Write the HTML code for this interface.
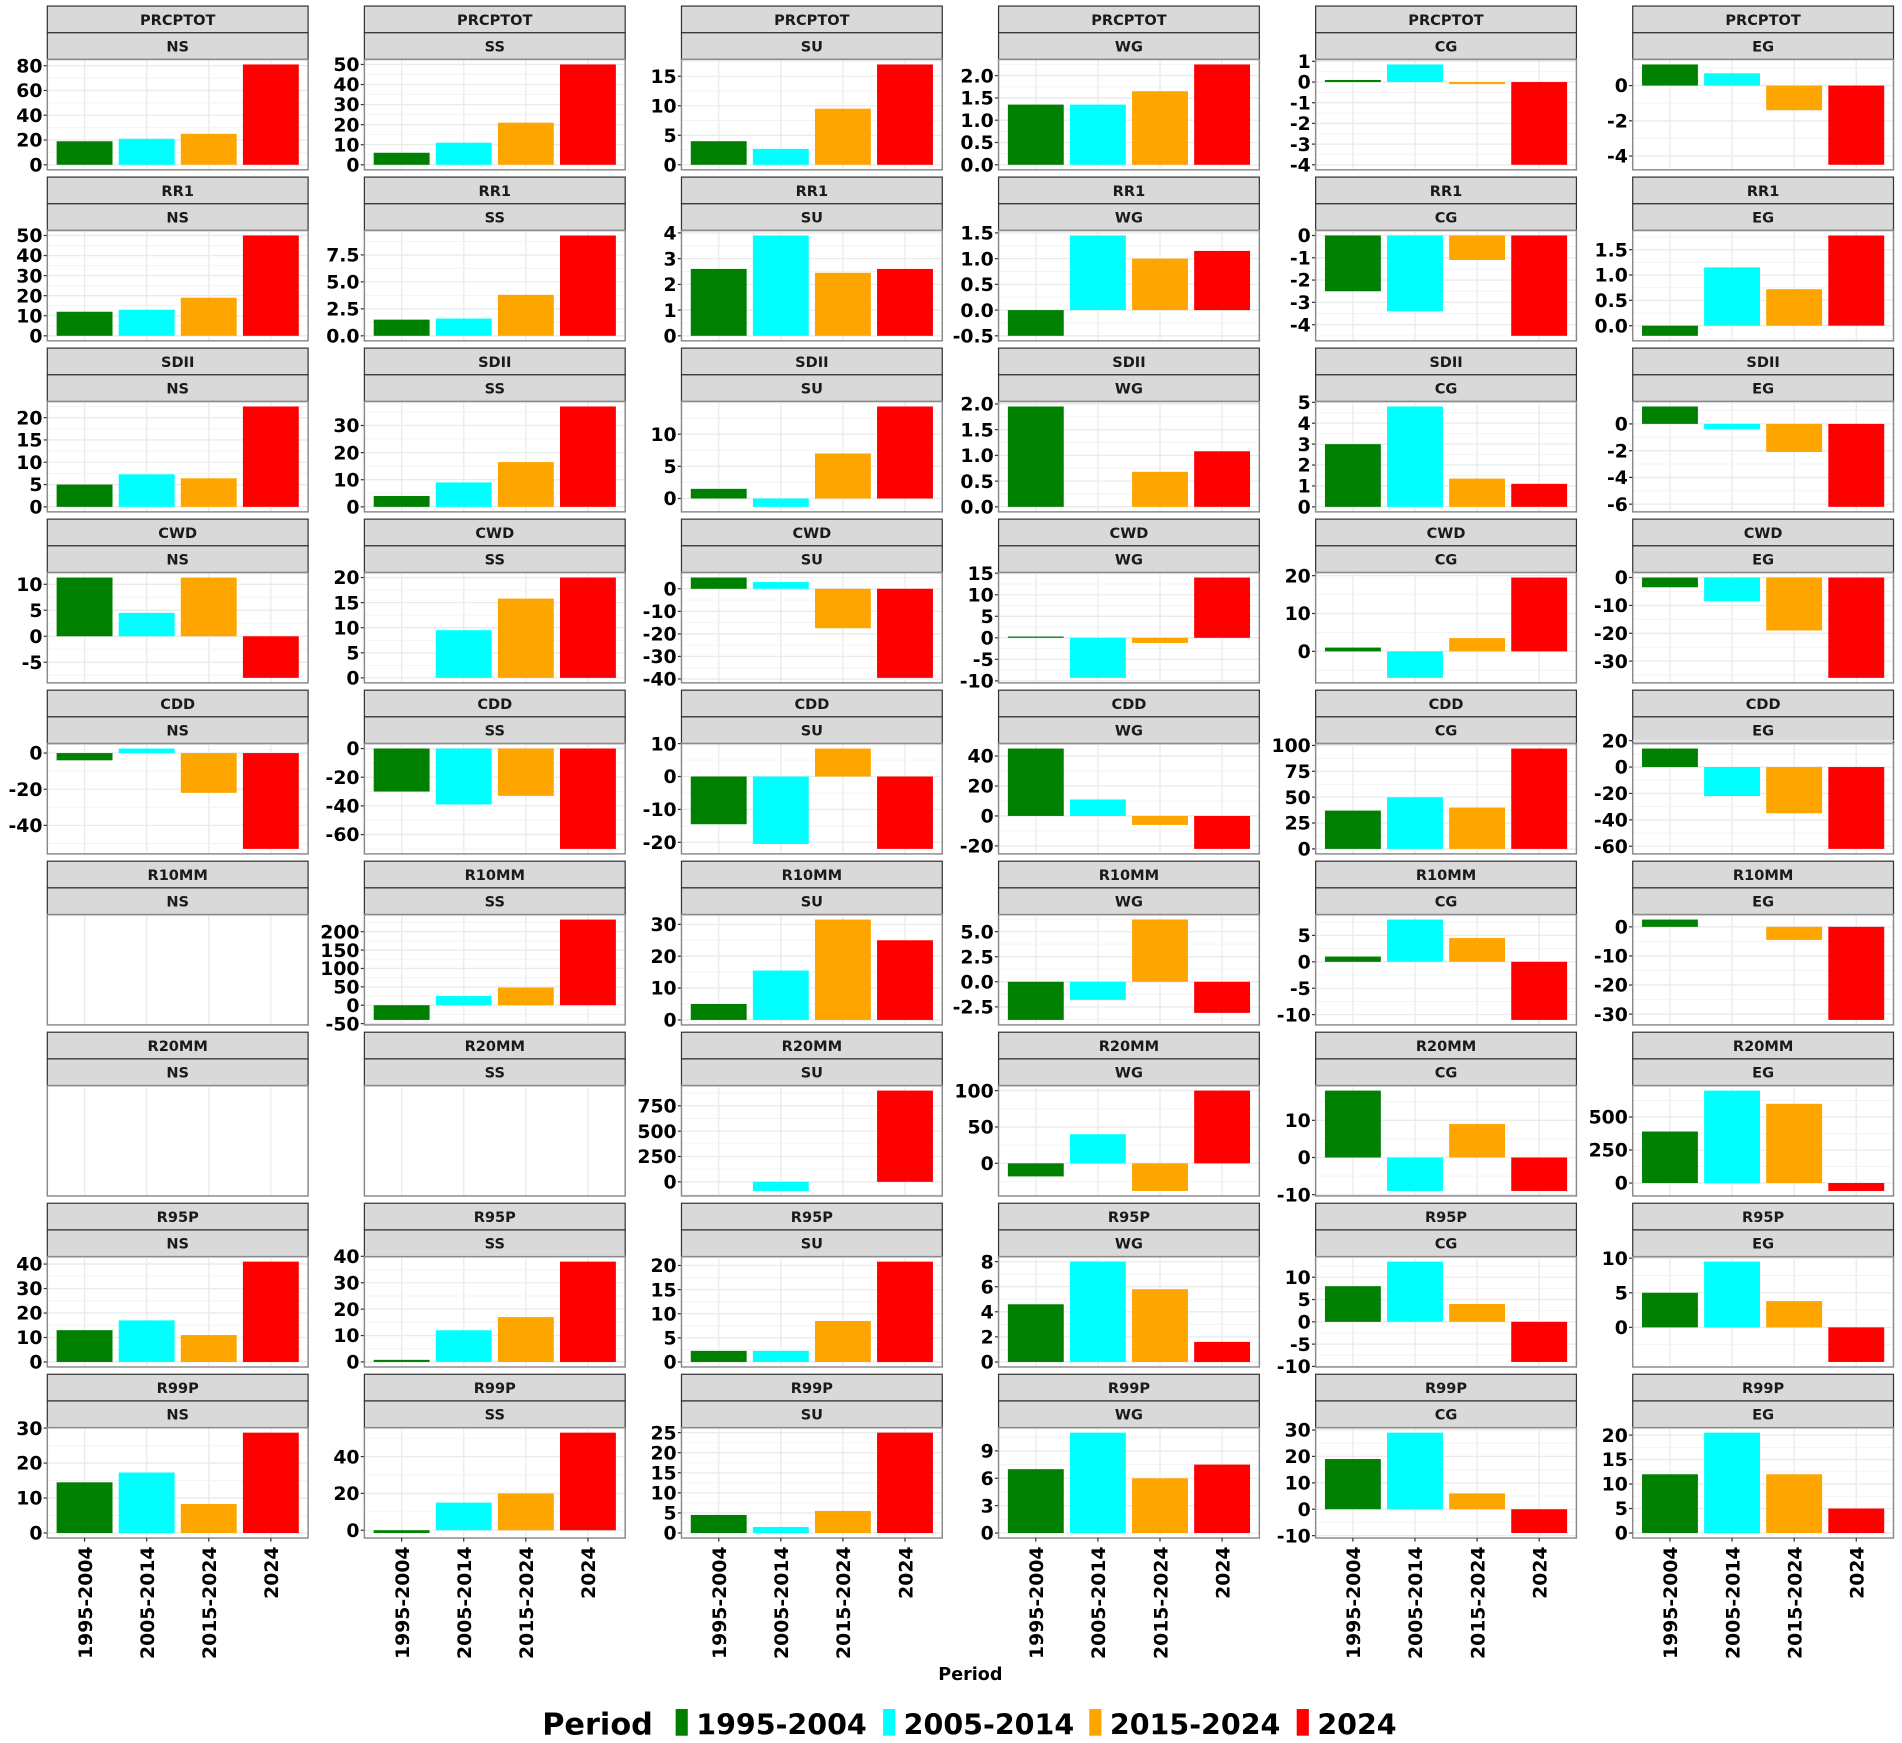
<!DOCTYPE html>
<html><head><meta charset="utf-8"><style>
html,body{margin:0;padding:0;background:#fff;}
svg{display:block;}
text{font-family:"DejaVu Sans","Liberation Sans",sans-serif;font-weight:bold;}
</style></head>
<body>
<svg id="chart" width="1902" height="1743" viewBox="0 0 1568 1437" preserveAspectRatio="none" xmlns="http://www.w3.org/2000/svg"></svg>
<script>
const indices = ["PRCPTOT","RR1","SDII","CWD","CDD","R10MM","R20MM","R95P","R99P"];
const regions = ["NS","SS","SU","WG","CG","EG"];
const periods = ["1995-2004","2005-2014","2015-2024","2024"];
const colors = ["#008000","#00FFFF","#FFA500","#FF0000"];

const prcptotVals = [[19,21,25,81],[6,11,21,50],[4,2.7,9.5,17],[1.35,1.35,1.65,2.25],[0.1,0.85,-0.1,-4.0],[1.2,0.7,-1.4,-4.5]];
const rr1Vals = [[12,13,19,50],[1.5,1.6,3.8,9.3],[2.6,3.9,2.45,2.6],[-0.5,1.45,1.0,1.15],[-2.5,-3.4,-1.1,-4.5],[-0.2,1.15,0.72,1.78]];
const sdiiVals = [[5,7.3,6.4,22.5],[4,9,16.5,37],[1.5,-1.3,7,14.3],[1.95,0,0.68,1.08],[3,4.8,1.35,1.1],[1.3,-0.4,-2.1,-6.2]];
const cwdVals = [[11.3,4.5,11.3,-8],[0,9.5,15.8,20],[5,3,-17.5,-39.5],[0.3,-9.3,-1.2,14],[1,-7,3.5,19.5],[-3.5,-8.5,-19,-36]];
const cddVals = [[-4,2.5,-22,-53],[-30,-39,-33,-70],[-14.5,-20.5,8.5,-22],[45,11,-6,-22],[37,50,40,97],[14,-22,-35,-62]];
const r10mmVals = [null,[-40,25,48,233],[5,15.5,31.5,25],[-3.8,-1.8,6.2,-3.1],[1,8,4.5,-11],[2.5,0,-4.5,-32]];
const r20mmVals = [null,null,[0,-90,0,900],[-18,40,-38,100],[18,-9,9,-9],[390,700,600,-60]];
const r95pVals = [[13,17,11,41],[0.8,12,17,38],[2.3,2.3,8.5,20.8],[4.6,8,5.8,1.6],[8,13.5,4,-9],[5,9.5,3.8,-5]];
const r99pVals = [[14.5,17.3,8.3,28.7],[-1.5,15,20,53],[4.5,1.5,5.5,25],[7,11,6,7.5],[19,29,6,-9],[12,20.5,12,5]];

const prcptotTicks = [["0","20","40","60","80"],["0","10","20","30","40","50"],["0","5","10","15"],["0.0","0.5","1.0","1.5","2.0"],["-4","-3","-2","-1","0","1"],["-4","-2","0"]];
const rr1Ticks = [["0","10","20","30","40","50"],["0.0","2.5","5.0","7.5"],["0","1","2","3","4"],["-0.5","0.0","0.5","1.0","1.5"],["-4","-3","-2","-1","0"],["0.0","0.5","1.0","1.5"]];
const sdiiTicks = [["0","5","10","15","20"],["0","10","20","30"],["0","5","10"],["0.0","0.5","1.0","1.5","2.0"],["0","1","2","3","4","5"],["-6","-4","-2","0"]];
const cwdTicks = [["-5","0","5","10"],["0","5","10","15","20"],["-40","-30","-20","-10","0"],["-10","-5","0","5","10","15"],["0","10","20"],["-30","-20","-10","0"]];
const cddTicks = [["-40","-20","0"],["-60","-40","-20","0"],["-20","-10","0","10"],["-20","0","20","40"],["0","25","50","75","100"],["-60","-40","-20","0","20"]];
const r10mmTicks = [[],["-50","0","50","100","150","200"],["0","10","20","30"],["-2.5","0.0","2.5","5.0"],["-10","-5","0","5"],["-30","-20","-10","0"]];
const r20mmTicks = [[],[],["0","250","500","750"],["0","50","100"],["-10","0","10"],["0","250","500"]];
const r95pTicks = [["0","10","20","30","40"],["0","10","20","30","40"],["0","5","10","15","20"],["0","2","4","6","8"],["-10","-5","0","5","10"],["0","5","10"]];
const r99pTicks = [["0","10","20","30"],["0","20","40"],["0","5","10","15","20","25"],["0","3","6","9"],["-10","0","10","20","30"],["0","5","10","15","20"]];

const allVals = [prcptotVals,rr1Vals,sdiiVals,cwdVals,cddVals,r10mmVals,r20mmVals,r95pVals,r99pVals];
const allTicks = [prcptotTicks,rr1Ticks,sdiiTicks,cwdTicks,cddTicks,r10mmTicks,r20mmTicks,r95pTicks,r99pTicks];

const NS = "http://www.w3.org/2000/svg";
const svg = document.getElementById("chart");
function mk(tag, attrs, parent){
  const e = document.createElementNS(NS, tag);
  for (const k in attrs) e.setAttribute(k, attrs[k]);
  (parent||svg).appendChild(e);
  return e;
}
const colX0 = 39, colStep = 261.4, panelW = 215;
const rowY0 = 5, rowStep = 141, stripH = 22, plotH = 91;

for (let r = 0; r < indices.length; r++) {
  for (let c = 0; c < regions.length; c++) {
    const x0 = colX0 + c*colStep;
    const top = rowY0 + r*rowStep;
    const py0 = top + 2*stripH, py1 = py0 + plotH;
    const g = mk("g", {});
    
    
    const s1 = mk("rect", {x:x0, y:top, width:panelW, height:stripH, fill:"#d9d9d9", stroke:"#333", "stroke-width":1}, g);
    
    
    const t1 = mk("text", {x:x0+panelW/2, y:top+15.5, "text-anchor":"middle", "font-size":12, fill:"#1a1a1a"}, g);
    t1.textContent = indices[r];
    
    
    const s2 = mk("rect", {x:x0, y:top+stripH, width:panelW, height:stripH, fill:"#d9d9d9", stroke:"#333", "stroke-width":1}, g);
    
    
    const t2 = mk("text", {x:x0+panelW/2, y:top+stripH+15.5, "text-anchor":"middle", "font-size":12, fill:"#1a1a1a"}, g);
    t2.textContent = regions[c];
    
    
    const unit = panelW/4.2;
    const xc = i => x0 + (i + 0.6)*unit;
    for (let i = 0; i < 4; i++) {
      const gl = mk("line", {x1:xc(i), x2:xc(i), y1:py0, y2:py1, stroke:"#ebebeb", "stroke-width":1.1}, g);
      
      
    }
    const vals = allVals[r][c];
    const ticks = allTicks[r][c].map(Number);
    if (vals) {
      let mn = Math.min(0, ...vals), mx = Math.max(0, ...vals);
      const pad = (mx - mn)*0.05; mn -= pad; mx += pad;
      const ys = v => py1 - (v - mn)/(mx - mn)*plotH;
      if (ticks.length > 1) {
        const st = ticks[1]-ticks[0];
        for (let v = ticks[0]-st/2; v <= mx; v += st) {
          if (v < mn) continue;
          const ml = mk("line", {x1:x0, x2:x0+panelW, y1:ys(v), y2:ys(v), stroke:"#f3f3f3", "stroke-width":0.8}, g);
          
          
        }
      }
      allTicks[r][c].forEach((lab, k) => {
        const v = ticks[k];
        const y = ys(v);
        const gl = mk("line", {x1:x0, x2:x0+panelW, y1:y, y2:y, stroke:"#ebebeb", "stroke-width":1.1}, g);
        
        
        const tk = mk("line", {x1:x0-3, x2:x0, y1:y, y2:y, stroke:"#333", "stroke-width":1}, g);
        
        
        const tl = mk("text", {x:x0-4, y:y+5.5, "text-anchor":"end", "font-size":15.5, fill:"#000"}, g);
        tl.textContent = lab;
        
        
      });
      vals.forEach((v, i) => {
        if (v === 0) return;
        const bw = 0.9*unit;
        const ya = ys(Math.max(v,0)), yb = ys(Math.min(v,0));
        const b = mk("rect", {x:xc(i)-bw/2, y:ya, width:bw, height:Math.max(yb-ya,0.8), fill:colors[i]}, g);
        
        
      });
    }
    const border = mk("rect", {x:x0, y:py0, width:panelW, height:plotH, fill:"none", stroke:"#8a8a8a", "stroke-width":1.2}, g);
    
    
    if (r === indices.length-1) {
      for (let i = 0; i < 4; i++) {
        const tk = mk("line", {x1:xc(i), x2:xc(i), y1:py1, y2:py1+3, stroke:"#333", "stroke-width":1}, g);
        
        
        const tx = xc(i)+6, ty = py1+7;
        const xl = mk("text", {x:tx, y:ty, "text-anchor":"end", "font-size":15.5, fill:"#000", transform:"rotate(-90 "+tx+" "+ty+")"}, g);
        xl.textContent = periods[i];
        
        
      }
    }
  }
}
const at = mk("text", {x:800, y:1385, "text-anchor":"middle", "font-size":14.5, fill:"#000"});
at.textContent = "Period";



const lg = mk("g", {});


const lt = mk("text", {x:447, y:1430, "font-size":25, fill:"#000"}, lg);
lt.textContent = "Period";


const keyX = [557, 728, 898, 1069];
periods.forEach((p, i) => {
  const k = mk("rect", {x:keyX[i], y:1409, width:10, height:22, fill:colors[i]}, lg);
  
  
  const t = mk("text", {x:keyX[i]+17, y:1430, "font-size":23.5, fill:"#000"}, lg);
  t.textContent = p;
  
  
});
</script>
</body></html>
